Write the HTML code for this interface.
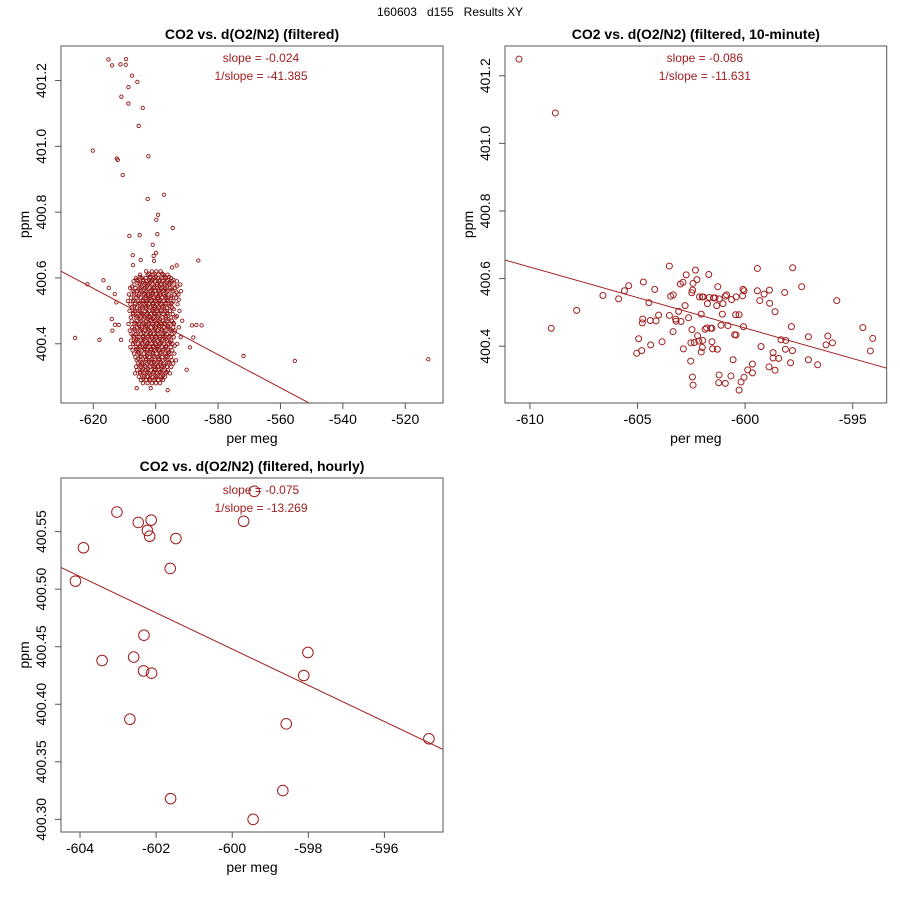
<!DOCTYPE html>
<html><head><meta charset="utf-8"><style>
body{margin:0;background:#fff;}
svg{display:block;font-family:"Liberation Sans",sans-serif;}
</style></head><body>
<svg id="chart" width="900" height="900" viewBox="0 0 900 900">
<text x="450" y="16" text-anchor="middle" font-size="12" xml:space="preserve" style="white-space:pre">160603   d155   Results XY</text>
</svg>
<script>
// ---------- Panel 1 data (filtered) ----------
const p1OutX = [-615.15,-613.98,-611.31,-609.60,-609.50,-607.58,-605.87,-608.75,-610.99,-608.75,-604.16,-605.44,-620.17,-612.48,-612.16,-602.35,-610.56,-597.33,-602.56,-599.25,-599.79,-594.56,-599.47,-608.43,-605.12,-600.96,-599.89,-600.64,-607.36,-600.53,-604.80,-586.34,-607.26,-593.28,-594.77,-616.75,-621.87,-615.04,-613.12,-612.59,-614.08,-613.87,-613.02,-611.84,-625.82,-618.03,-611.10,-588.37,-586.98,-585.28,-587.94,-589.01,-571.83,-555.40,-512.61,-590.08,-606.08,-596.16,-601.60];
const p1OutY = [401.264,401.246,401.249,401.248,401.265,401.215,401.196,401.180,401.151,401.130,401.117,401.062,400.987,400.963,400.959,400.970,400.913,400.853,400.840,400.792,400.777,400.752,400.733,400.728,400.730,400.701,400.676,400.667,400.669,400.652,400.655,400.653,400.639,400.638,400.632,400.593,400.581,400.570,400.551,400.526,400.475,400.440,400.458,400.457,400.418,400.412,400.412,400.456,400.457,400.456,400.419,400.389,400.363,400.348,400.353,400.321,400.265,400.259,400.265];
const p1RowY = [400.620,400.610,400.600,400.590,400.580,400.570,400.560,400.550,400.540,400.530,400.520,400.510,400.500,400.490,400.480,400.470,400.460,400.450,400.440,400.430,400.420,400.410,400.400,400.390,400.380,400.370,400.360,400.350,400.340,400.330,400.320,400.310,400.300,400.290,400.280];
const p1RowX = [
[-603.1,-601.2,-599.8,-598.4],
[-605.0,-602.6,-600.9,-599.1,-597.5,-596.2],
[-606.3,-604.4,-603.2,-601.8,-600.5,-599.3,-598.0,-596.8,-595.1],
[-607.1,-605.6,-604.1,-602.9,-601.5,-600.2,-598.9,-597.7,-596.4,-594.8,-593.2],
[-606.8,-605.2,-603.7,-602.4,-601.0,-599.6,-598.3,-597.1,-595.7,-594.2,-592.1],
[-608.2,-606.5,-604.9,-603.4,-602.0,-600.7,-599.4,-598.1,-596.9,-595.3,-593.7],
[-607.4,-605.9,-604.6,-603.0,-601.6,-600.3,-599.0,-597.6,-596.2,-594.6,-591.9],
[-608.6,-606.9,-605.3,-603.8,-602.5,-601.1,-599.8,-598.6,-597.3,-595.9,-594.0,-592.7],
[-607.9,-606.2,-604.7,-603.3,-601.9,-600.6,-599.2,-597.9,-596.6,-595.0,-593.4],
[-608.9,-607.2,-605.7,-604.2,-602.8,-601.4,-600.1,-598.8,-597.4,-596.0,-594.3],
[-608.1,-606.6,-605.0,-603.6,-602.2,-600.9,-599.5,-598.2,-596.8,-595.2,-593.0],
[-607.6,-606.0,-604.5,-603.1,-601.7,-600.4,-599.1,-597.8,-596.3,-594.7],
[-608.4,-606.7,-605.1,-603.5,-602.1,-600.8,-599.6,-598.2,-596.9,-595.4,-592.4],
[-607.3,-605.8,-604.3,-602.9,-601.5,-600.2,-598.9,-597.5,-596.1,-594.5],
[-608.0,-606.4,-604.8,-603.4,-602.0,-600.6,-599.3,-597.9,-596.7,-595.1,-593.6],
[-607.7,-606.1,-604.6,-603.0,-601.6,-600.3,-599.0,-597.6,-596.2,-594.8,-591.5],
[-608.7,-606.8,-605.3,-603.7,-602.3,-601.0,-599.7,-598.4,-597.0,-595.6,-594.1],
[-607.5,-605.9,-604.4,-602.9,-601.4,-600.1,-598.8,-597.4,-596.0,-594.4,-592.6],
[-608.3,-606.6,-605.0,-603.5,-602.1,-600.7,-599.4,-598.1,-596.8,-595.3,-593.8],
[-607.8,-606.2,-604.7,-603.2,-601.8,-600.5,-599.2,-597.8,-596.5,-594.9],
[-607.0,-605.5,-604.0,-602.6,-601.2,-599.9,-598.6,-597.2,-595.8,-594.2,-592.0],
[-607.9,-606.3,-604.8,-603.3,-601.9,-600.6,-599.3,-597.9,-596.4,-595.0],
[-607.2,-605.7,-604.2,-602.7,-601.3,-600.0,-598.7,-597.3,-595.9,-594.6,-593.1],
[-608.1,-606.4,-604.9,-603.4,-602.0,-600.7,-599.4,-598.0,-596.7,-595.2],
[-607.4,-605.8,-604.3,-602.8,-601.5,-600.2,-598.9,-597.6,-596.1,-594.7],
[-606.9,-605.3,-603.8,-602.4,-601.0,-599.7,-598.4,-597.0,-595.6,-594.0],
[-606.5,-604.9,-603.4,-602.0,-600.6,-599.3,-597.9,-596.5,-595.1],
[-606.1,-604.6,-603.1,-601.7,-600.3,-599.0,-597.6,-596.2,-594.8,-593.5],
[-605.7,-604.2,-602.7,-601.3,-600.0,-598.6,-597.3,-595.9,-594.4],
[-606.3,-604.8,-603.3,-601.9,-600.5,-599.2,-597.8,-596.4,-595.0],
[-605.9,-604.4,-603.0,-601.6,-600.2,-598.9,-597.5,-596.1],
[-606.6,-605.0,-603.6,-602.2,-600.8,-599.5,-598.1,-596.8,-595.4],
[-605.4,-603.9,-602.5,-601.1,-599.8,-598.4,-597.0],
[-604.7,-603.2,-601.8,-600.4,-599.1,-597.7],
[-604.1,-602.6,-601.2,-599.9,-598.6]
];
const p1Row2Y = [400.613,400.603,400.594,400.584,400.574,400.565,400.556,400.545,400.534,400.524,400.514,400.505,400.494,400.484,400.475,400.464,400.455,400.444,400.434,400.424,400.415,400.404,400.394,400.384,400.374,400.364,400.354,400.344,400.334,400.324,400.314,400.304,400.294];
const p1Row2X = [
[-602.2,-600.4,-597.9],
[-604.9,-601.7,-599.9,-597.2,-595.7],
[-606.0,-603.9,-602.1,-600.9,-598.6,-596.1,-594.3],
[-605.1,-603.3,-601.9,-599.5,-597.4,-595.3],
[-607.6,-604.5,-602.8,-600.5,-598.7,-596.3,-593.1],
[-605.5,-603.8,-601.3,-599.1,-597.4,-594.9],
[-606.9,-604.3,-602.6,-600.9,-598.5,-596.5,-593.3],
[-605.6,-603.2,-601.6,-599.3,-597.0,-595.0],
[-607.0,-604.1,-602.2,-600.4,-598.5,-596.2,-592.6],
[-605.4,-603.1,-601.0,-599.0,-596.9,-594.8],
[-606.8,-604.2,-602.5,-600.2,-597.8,-595.6],
[-605.2,-603.0,-601.1,-599.4,-597.2,-594.2],
[-607.2,-604.7,-602.6,-600.5,-598.4,-596.3],
[-606.0,-603.7,-601.9,-599.7,-596.9,-593.2],
[-605.0,-602.7,-600.9,-598.6,-595.9],
[-606.5,-604.0,-602.0,-599.4,-597.3,-594.3],
[-605.4,-603.1,-600.7,-598.9,-596.1],
[-606.9,-604.6,-602.5,-600.3,-598.0,-595.2],
[-605.8,-603.8,-601.6,-599.6,-597.1,-594.0],
[-607.3,-604.1,-602.4,-600.1,-597.7,-595.5],
[-605.9,-603.6,-601.1,-598.8,-596.7],
[-606.7,-604.4,-602.3,-600.2,-598.1,-595.3],
[-605.1,-603.0,-600.9,-599.0,-596.6,-593.9],
[-606.2,-603.7,-601.6,-599.6,-597.4],
[-605.6,-602.9,-600.8,-598.5,-595.9],
[-604.7,-602.8,-600.9,-598.8,-596.6],
[-605.6,-603.1,-601.3,-599.0,-596.9],
[-604.4,-602.2,-600.5,-598.3,-595.8],
[-605.2,-603.5,-601.0,-599.3,-597.2],
[-604.1,-602.4,-600.3,-598.1],
[-605.0,-602.7,-600.6,-598.6,-596.5],
[-603.7,-601.7,-599.4,-597.6],
[-603.9,-602.0,-600.1,-598.2]
];
const p1XTicks = [-620,-600,-580,-560,-540,-520];
const p1YTicks = [400.4,400.6,400.8,401.0,401.2];
const p1YLabels = ["400.4","400.6","400.8","401.0","401.2"];
const p1Fit = [-0.00504, -630.4, 400.621]; // slope, x0, y0
const p1Stats = ["slope = -0.024","1/slope = -41.385"];

// ---------- Panel 2 data (10-minute) ----------
const p2X = [-610.51,-608.82,-609.01,-607.83,-606.61,-605.88,-605.61,-605.41,-604.73,-604.47,-604.20,-604.95,-605.04,-604.81,-604.78,-604.76,-604.41,-604.39,-604.14,-604.02,-603.86,-603.52,-603.52,-603.46,-603.34,-603.35,-603.23,-603.21,-603.09,-602.98,-603.01,-602.89,-602.79,-602.74,-602.63,-602.87,-602.53,-602.52,-602.47,-602.48,-602.44,-602.42,-602.31,-602.24,-602.36,-602.45,-602.42,-602.21,-602.15,-602.04,-601.99,-601.97,-602.04,-602.12,-601.99,-601.95,-601.86,-601.79,-601.75,-601.69,-601.66,-601.60,-601.54,-601.54,-601.51,-601.47,-601.40,-601.32,-601.27,-601.20,-601.21,-601.23,-601.29,-601.12,-601.06,-601.03,-600.92,-600.92,-600.86,-600.80,-600.63,-600.66,-600.56,-600.49,-600.42,-600.44,-600.42,-600.28,-600.28,-600.19,-600.12,-600.08,-600.10,-600.05,-600.05,-599.88,-599.66,-599.66,-599.43,-599.43,-599.32,-599.26,-599.12,-598.89,-598.87,-598.86,-598.70,-598.70,-598.61,-598.61,-598.44,-598.33,-598.16,-598.13,-598.11,-597.89,-597.85,-597.80,-597.79,-597.37,-597.06,-597.06,-596.63,-596.24,-596.16,-595.94,-595.74,-594.53,-594.18,-594.07];
const p2Y = [401.249,401.090,400.453,400.506,400.550,400.540,400.564,400.579,400.590,400.529,400.568,400.422,400.379,400.387,400.469,400.480,400.476,400.404,400.475,400.492,400.413,400.637,400.491,400.548,400.552,400.443,400.480,400.474,400.503,400.473,400.584,400.589,400.520,400.611,400.484,400.392,400.356,400.410,400.449,400.558,400.566,400.586,400.625,400.597,400.411,400.309,400.285,400.431,400.415,400.383,400.396,400.417,400.495,400.546,400.546,400.546,400.450,400.454,400.526,400.612,400.544,400.453,400.453,400.413,400.392,400.543,400.543,400.520,400.576,400.540,400.315,400.292,400.391,400.462,400.495,400.526,400.290,400.548,400.552,400.461,400.538,400.312,400.360,400.434,400.433,400.493,400.546,400.493,400.270,400.294,400.549,400.458,400.568,400.564,400.308,400.330,400.347,400.321,400.630,400.564,400.535,400.399,400.554,400.339,400.566,400.527,400.381,400.365,400.329,400.502,400.364,400.419,400.559,400.391,400.417,400.351,400.458,400.387,400.632,400.576,400.428,400.360,400.345,400.404,400.430,400.410,400.535,400.455,400.386,400.423];
const p2XTicks = [-610,-605,-600,-595];
const p2YTicks = [400.4,400.6,400.8,401.0,401.2];
const p2YLabels = ["400.4","400.6","400.8","401.0","401.2"];
const p2Fit = [-0.01804, -611.16, 400.655];
const p2Stats = ["slope = -0.086","1/slope = -11.631"];

// ---------- Panel 3 data (hourly) ----------
const p3X = [-599.42,-603.03,-602.47,-602.13,-602.23,-602.17,-601.48,-599.70,-603.91,-604.12,-601.63,-602.32,-603.42,-602.59,-602.33,-602.12,-598.01,-598.12,-602.69,-598.58,-594.83,-601.62,-598.67,-599.45];
const p3Y = [400.585,400.567,400.558,400.560,400.551,400.546,400.544,400.559,400.536,400.507,400.518,400.460,400.438,400.441,400.429,400.427,400.445,400.425,400.387,400.383,400.370,400.318,400.325,400.300];
const p3XTicks = [-604,-602,-600,-598,-596];
const p3YTicks = [400.30,400.35,400.40,400.45,400.50,400.55];
const p3YLabels = ["400.30","400.35","400.40","400.45","400.50","400.55"];
const p3Fit = [-0.01575, -604.51, 400.519];
const p3Stats = ["slope = -0.075","1/slope = -13.269"];

const NS = "http://www.w3.org/2000/svg";
const svg = document.getElementById("chart");
const RED = "#a11d1d";
function mk(tag, attrs, parent){
  const e = document.createElementNS(NS, tag);
  for (const k in attrs) e.setAttribute(k, attrs[k]);
  (parent||svg).appendChild(e);
  return e;
}
function panel(cfg){
  const g = mk("g", {});
  
  
  const L=cfg.box[0], R=cfg.box[1], T=cfg.box[2], B=cfg.box[3];
  const xs = v => L + (v - cfg.xr[0]) / (cfg.xr[1]-cfg.xr[0]) * (R-L);
  const ys = v => B - (v - cfg.yr[0]) / (cfg.yr[1]-cfg.yr[0]) * (B-T);
  const title = mk("text", {x:(L+R)/2, y:T-7, "text-anchor":"middle", "font-size":"14", "font-weight":"bold"}, g);
  title.textContent = cfg.title;
  
  
  const cid = cfg.name + "-clip";
  const cp = mk("clipPath", {id:cid}, g);
  mk("rect", {x:L, y:T, width:R-L, height:B-T}, cp);
  const pts = mk("g", {"clip-path":"url(#"+cid+")"}, g);
  
  
  for (let i=0;i<cfg.px.length;i++){
    const c = mk("circle", {cx:xs(cfg.px[i]).toFixed(2), cy:ys(cfg.py[i]).toFixed(2), r:cfg.r, fill:"none", stroke:cfg.col||RED, "stroke-width":cfg.sw}, pts);
    
    
  }
  const s = cfg.fit[0], x0 = cfg.fit[1], y0 = cfg.fit[2];
  const fx = v => y0 + s*(v - x0);
  const ln = mk("line", {x1:xs(cfg.xr[0]), y1:ys(fx(cfg.xr[0])), x2:xs(cfg.xr[1]), y2:ys(fx(cfg.xr[1])), stroke:RED, "stroke-width":"1"}, pts);
  
  
  const bx = mk("rect", {x:L, y:T, width:R-L, height:B-T, fill:"none", stroke:"#555", "stroke-width":"1"}, g);
  
  
  const xa = mk("g", {}, g);
  
  
  const xt = cfg.xt;
  mk("line", {x1:xs(xt[0]), y1:B, x2:xs(xt[xt.length-1]), y2:B, stroke:"#555"}, xa);
  xt.forEach(v=>{
    mk("line", {x1:xs(v), y1:B, x2:xs(v), y2:B+6, stroke:"#555"}, xa);
    const t = mk("text", {x:xs(v), y:B+21, "text-anchor":"middle", "font-size":"14"}, xa);
    t.textContent = String(v);
    
    
  });
  const xl = mk("text", {x:(L+R)/2, y:B+40, "text-anchor":"middle", "font-size":"14"}, g);
  xl.textContent = "per meg";
  
  
  const ya = mk("g", {}, g);
  
  
  const yt = cfg.yt;
  mk("line", {x1:L, y1:ys(yt[0]), x2:L, y2:ys(yt[yt.length-1]), stroke:"#555"}, ya);
  yt.forEach((v,i)=>{
    const y = ys(v);
    mk("line", {x1:L-6, y1:y, x2:L, y2:y, stroke:"#555"}, ya);
    const t = mk("text", {x:0, y:0, "text-anchor":"middle", "font-size":"14", transform:"translate("+(L-15)+","+y+") rotate(-90)"}, ya);
    t.textContent = cfg.yl[i];
    
    
  });
  const yl = mk("text", {x:0, y:0, "text-anchor":"middle", "font-size":"14", transform:"translate("+(L-32)+","+((T+B)/2)+") rotate(-90)"}, g);
  yl.textContent = "ppm";
  
  
  cfg.stats.forEach((s,i)=>{
    const t = mk("text", {x:(L+R)/2+9, y:T+16+i*18, "text-anchor":"middle", "font-size":"12", fill:RED}, g);
    t.textContent = s;
    
    
  });
}
const p1X = p1OutX.slice(), p1Y = p1OutY.slice();
p1RowX.forEach((row,i)=>row.forEach(x=>{ p1X.push(x); p1Y.push(p1RowY[i]); }));
p1Row2X.forEach((row,i)=>row.forEach(x=>{ p1X.push(x); p1Y.push(p1Row2Y[i]); }));

panel({name:"panel-filtered", box:[61,443,46,403], xr:[-630.35,-507.9], yr:[400.220,401.305],
  px:p1X, py:p1Y, r:1.7, sw:0.9, col:"#921414", fit:p1Fit, xt:p1XTicks, yt:p1YTicks, yl:p1YLabels,
  title:"CO2 vs. d(O2/N2) (filtered)", stats:p1Stats});
panel({name:"panel-10-minute", box:[505,886.7,46,403], xr:[-611.16,-593.42], yr:[400.232,401.288],
  px:p2X, py:p2Y, r:3, sw:1, fit:p2Fit, xt:p2XTicks, yt:p2YTicks, yl:p2YLabels,
  title:"CO2 vs. d(O2/N2) (filtered, 10-minute)", stats:p2Stats});
panel({name:"panel-hourly", box:[61,443,478,832], xr:[-604.50,-594.46], yr:[400.289,400.5966],
  px:p3X, py:p3Y, r:5.3, sw:1, fit:p3Fit, xt:p3XTicks, yt:p3YTicks, yl:p3YLabels,
  title:"CO2 vs. d(O2/N2) (filtered, hourly)", stats:p3Stats});
</script>
</body></html>
